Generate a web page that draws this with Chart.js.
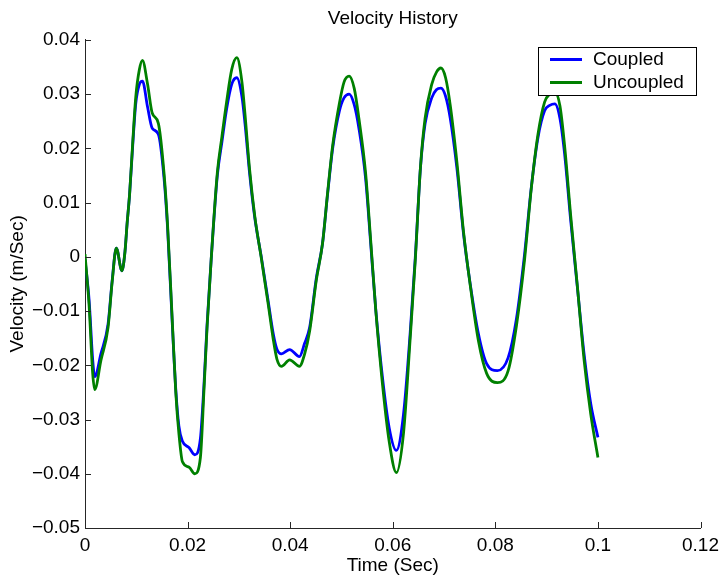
<!doctype html>
<html lang="en">
<head>
    <meta charset="utf-8">
    <script src="https://cdn.jsdelivr.net/npm/chart.js"></script>
    <style>
        body { margin: 0; background: #fff; }
    </style>
</head>
<body>
    <canvas id="myChart" width="725" height="579"></canvas>
    <script>
        // time in seconds, velocity in m/s
        const time = [0.0000, 0.0008, 0.0015, 0.0019, 0.0031, 0.0045, 0.0053, 0.0061, 0.0072, 0.0078,
            0.0082, 0.0087, 0.0093, 0.0099, 0.0106, 0.0112, 0.0122, 0.0131, 0.0143, 0.0154,
            0.0161, 0.0170, 0.0177, 0.0183, 0.0190, 0.0203, 0.0214, 0.0225, 0.0232, 0.0238,
            0.0246, 0.0258, 0.0267, 0.0276, 0.0286, 0.0296, 0.0306, 0.0312, 0.0321, 0.0331,
            0.0344, 0.0357, 0.0367, 0.0374, 0.0383, 0.0399, 0.0418, 0.0428, 0.0438, 0.0451,
            0.0463, 0.0473, 0.0483, 0.0496, 0.0505, 0.0515, 0.0525, 0.0534, 0.0547, 0.0557,
            0.0567, 0.0580, 0.0593, 0.0607, 0.0621, 0.0634, 0.0644, 0.0654, 0.0663, 0.0676,
            0.0685, 0.0694, 0.0703, 0.0712, 0.0725, 0.0738, 0.0751, 0.0767, 0.0783, 0.0804,
            0.0825, 0.0841, 0.0857, 0.0870, 0.0883, 0.0896, 0.0906, 0.0916, 0.0926, 0.0935,
            0.0947, 0.0960, 0.0973, 0.0986, 0.1000];

        const coupled = [-0.0005, -0.0080, -0.0190, -0.0221, -0.0179, -0.0124, -0.0044, 0.0016, -0.0026, 0.0010,
            0.0060, 0.0116, 0.0205, 0.0283, 0.0318, 0.0324, 0.0276, 0.0237, 0.0226, 0.0146,
            0.0053, -0.0120, -0.0245, -0.0312, -0.0340, -0.0352, -0.0365, -0.0335, -0.0235, -0.0125,
            -0.0005, 0.0150, 0.0212, 0.0272, 0.0318, 0.0330, 0.0295, 0.0245, 0.0153, 0.0072,
            -0.0002, -0.0081, -0.0142, -0.0170, -0.0179, -0.0171, -0.0184, -0.0160, -0.0130, -0.0039,
            0.0024, 0.0116, 0.0201, 0.0269, 0.0293, 0.0300, 0.0280, 0.0237, 0.0145, 0.0024,
            -0.0099, -0.0223, -0.0315, -0.0357, -0.0290, -0.0140, 0.0000, 0.0164, 0.0245, 0.0293,
            0.0308, 0.0311, 0.0296, 0.0256, 0.0164, 0.0042, -0.0050, -0.0142, -0.0197, -0.0210,
            -0.0186, -0.0115, 0.0005, 0.0127, 0.0219, 0.0269, 0.0279, 0.0282, 0.0255, 0.0190,
            0.0066, -0.0057, -0.0179, -0.0271, -0.0333];

        const uncoupled = [0.0005, -0.0090, -0.0215, -0.0245, -0.0191, -0.0130, -0.0046, 0.0016, -0.0026, 0.0010,
            0.0060, 0.0116, 0.0210, 0.0295, 0.0345, 0.0362, 0.0318, 0.0265, 0.0246, 0.0155,
            0.0058, -0.0115, -0.0250, -0.0325, -0.0378, -0.0388, -0.0400, -0.0370, -0.0245, -0.0130,
            -0.0005, 0.0155, 0.0222, 0.0285, 0.0345, 0.0367, 0.0322, 0.0262, 0.0160, 0.0075,
            -0.0004, -0.0086, -0.0152, -0.0188, -0.0202, -0.0190, -0.0202, -0.0180, -0.0137, -0.0043,
            0.0024, 0.0118, 0.0206, 0.0283, 0.0322, 0.0333, 0.0310, 0.0255, 0.0155, 0.0030,
            -0.0100, -0.0235, -0.0340, -0.0398, -0.0325, -0.0150, -0.0005, 0.0165, 0.0255, 0.0318,
            0.0340, 0.0348, 0.0330, 0.0280, 0.0175, 0.0046, -0.0052, -0.0155, -0.0215, -0.0232,
            -0.0210, -0.0128, -0.0005, 0.0125, 0.0225, 0.0285, 0.0300, 0.0303, 0.0278, 0.0205,
            0.0075, -0.0055, -0.0190, -0.0290, -0.0370];

        const xTicks = [0, 0.02, 0.04, 0.06, 0.08, 0.1, 0.12];
        const xTickLabels = ['0', '0.02', '0.04', '0.06', '0.08', '0.1', '0.12'];
        const yTicks = [-0.05, -0.04, -0.03, -0.02, -0.01, 0, 0.01, 0.02, 0.03, 0.04];
        const yTickLabels = ['\u22120.05', '\u22120.04', '\u22120.03', '\u22120.02', '\u22120.01',
            '0', '0.01', '0.02', '0.03', '0.04'];

        const FONT = 'Liberation Sans, Arial, sans-serif';

        // MATLAB style ticks pointing into the plot
        const inwardTicks = {
            id: 'inwardTicks',
            afterDraw(chart) {
                const ctx = chart.ctx;
                const area = chart.chartArea;
                const xs = chart.scales.x, ys = chart.scales.y;
                ctx.save();
                ctx.strokeStyle = '#262626';
                ctx.lineWidth = 1;
                ctx.beginPath();
                for (const v of xTicks) {
                    const px = Math.round(xs.getPixelForValue(v)) + 0.5;
                    ctx.moveTo(px, area.bottom);
                    ctx.lineTo(px, area.bottom - 6);
                }
                for (const v of yTicks) {
                    const py = Math.round(ys.getPixelForValue(v)) + 0.5;
                    ctx.moveTo(area.left, py);
                    ctx.lineTo(area.left + 6, py);
                }
                ctx.stroke();
                ctx.restore();
            }
        };

        // boxed legend in the upper right corner
        const boxLegend = {
            id: 'boxLegend',
            afterDraw(chart) {
                const ctx = chart.ctx;
                const sets = chart.data.datasets;
                const x0 = 538, y0 = 47, w = 158, h = 48;
                ctx.save();
                ctx.fillStyle = '#fff';
                ctx.fillRect(x0, y0, w, h);
                ctx.strokeStyle = '#000';
                ctx.lineWidth = 1;
                ctx.strokeRect(x0 + 0.5, y0 + 0.5, w, h);
                ctx.font = '19px ' + FONT;
                ctx.textBaseline = 'middle';
                ctx.fillStyle = '#000';
                sets.forEach((ds, i) => {
                    const yy = y0 + 12.5 + i * 23;
                    ctx.strokeStyle = ds.borderColor;
                    ctx.lineWidth = 3;
                    ctx.beginPath();
                    ctx.moveTo(x0 + 12, yy);
                    ctx.lineTo(x0 + 44, yy);
                    ctx.stroke();
                    ctx.fillText(ds.label, x0 + 55, yy);
                });
                ctx.restore();
            }
        };

        const data = {
            datasets: [{
                label: 'Coupled',
                data: time.map((t, i) => ({ x: t, y: coupled[i] })),
                borderColor: '#0000ff',
                borderWidth: 2.8,
                pointRadius: 0,
                cubicInterpolationMode: 'monotone',
                order: 1
            },
            {
                label: 'Uncoupled',
                data: time.map((t, i) => ({ x: t, y: uncoupled[i] })),
                borderColor: '#008000',
                borderWidth: 2.8,
                pointRadius: 0,
                cubicInterpolationMode: 'monotone',
                order: 0
            }]
        };

        const config = {
            type: 'line',
            data: data,
            plugins: [inwardTicks, boxLegend],
            options: {
                responsive: false,
                animation: false,
                devicePixelRatio: 1,
                layout: { padding: { left: 0, right: 22, top: 0, bottom: 0 } },
                plugins: {
                    legend: { display: false },
                    tooltip: { enabled: false },
                    title: {
                        display: true,
                        fullSize: false,
                        text: 'Velocity History',
                        color: '#000',
                        font: { family: FONT, size: 19, weight: 'normal' },
                        padding: { top: 7, bottom: 10 }
                    }
                },
                scales: {
                    x: {
                        type: 'linear',
                        min: 0,
                        max: 0.12,
                        grid: { display: false, drawTicks: false },
                        border: { display: true, color: '#262626', width: 1 },
                        afterBuildTicks: (s) => { s.ticks = xTicks.map(v => ({ value: v })); },
                        afterFit: (s) => { s.height = 51; },
                        ticks: {
                            autoSkip: false,
                            maxRotation: 0,
                            padding: 6,
                            color: '#000',
                            font: { family: FONT, size: 19 },
                            callback: (v, i) => xTickLabels[i]
                        },
                        title: {
                            display: true,
                            text: 'Time (Sec)',
                            color: '#000',
                            font: { family: FONT, size: 19 },
                            padding: { top: 0, bottom: 2 }
                        }
                    },
                    y: {
                        min: -0.05,
                        max: 0.04,
                        grid: { display: false, drawTicks: false },
                        border: { display: true, color: '#262626', width: 1 },
                        afterBuildTicks: (s) => { s.ticks = yTicks.map(v => ({ value: v })); },
                        afterFit: (s) => { s.width = 85; },
                        ticks: {
                            autoSkip: false,
                            padding: 5,
                            color: '#000',
                            font: { family: FONT, size: 19 },
                            callback: (v, i) => yTickLabels[i]
                        },
                        title: {
                            display: true,
                            text: 'Velocity (m/Sec)',
                            color: '#000',
                            font: { family: FONT, size: 19 },
                            padding: { top: 6, bottom: 0 }
                        }
                    }
                }
            }
        };

        const myChart = new Chart(document.getElementById('myChart'), config);
    </script>
</body>
</html>
